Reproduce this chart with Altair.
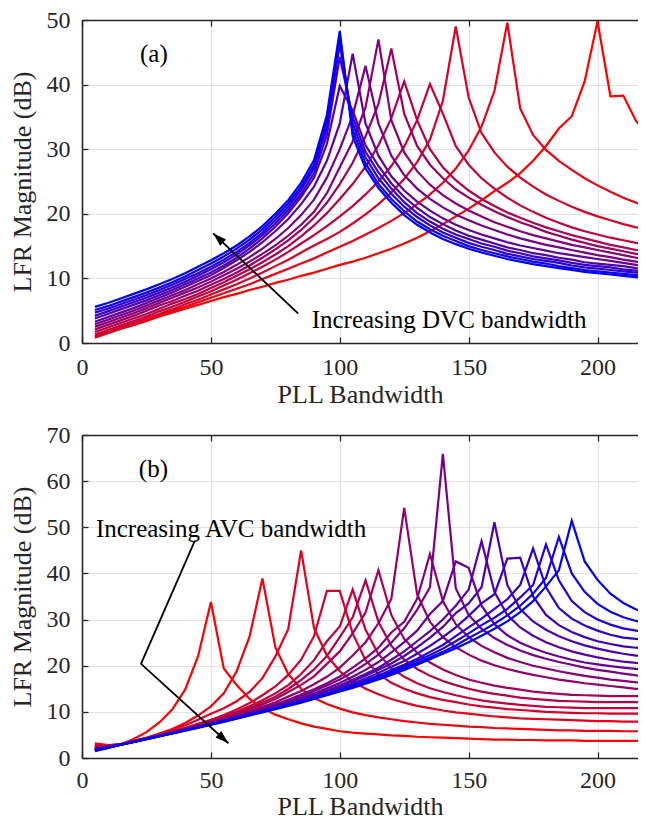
import altair as alt
import pandas as pd

FONT = "Liberation Serif"
W = 556
XMAX = 215.7
HA, HB = 323, 323

# PLL bandwidth sample points (shared by every curve)
pll_bw = list(range(5, 225, 5))

# ---------------- panel (a): increasing DVC bandwidth (red -> blue) ----------------
dvc_01 = [1.0,1.6,2.2,2.8,3.4,4.1,4.7,5.3,5.9,6.5,7.1,7.6,8.2,8.7,9.3,9.8,10.4,10.9,11.5,12.1,
          12.6,13.2,13.9,14.6,15.4,16.3,17.3,18.4,19.6,20.8,22.1,23.5,24.8,26.3,28.2,30.5,33.2,35.1,40.5,49.8,
          38.2,38.3,34.3,32.6]
dvc_02 = [0.8,1.5,2.2,2.8,3.5,4.2,4.9,5.6,6.3,7.0,7.7,8.4,9.1,9.9,10.7,11.5,12.3,13.1,14.0,14.9,
          15.8,16.8,17.8,18.9,20.1,21.5,23.0,24.8,27.0,29.8,33.5,39.0,49.6,
          36.3,32.2,29.9,28.2,26.8,25.5,24.4,23.4,22.5,21.7,21.0]
dvc_03 = [1.0,1.7,2.4,3.1,3.8,4.5,5.2,6.0,6.7,7.5,8.3,9.1,10.0,10.9,11.9,12.9,14.0,15.1,16.1,17.2,
          18.5,19.9,21.5,23.3,25.4,28.0,31.5,37.5,49.0,
          38.0,32.5,29.5,27.3,25.6,24.2,23.0,22.0,21.1,20.3,19.6,19.0,18.4,17.9,17.5]
dvc_04 = [1.3,2.0,2.7,3.4,4.1,4.9,5.6,6.4,7.2,8.0,8.9,9.8,10.8,11.8,12.9,14.1,15.4,16.7,18.1,19.6,
          21.2,23.0,25.0,27.4,30.4,34.5,40.1,
          35.5,30.5,27.6,25.5,23.9,22.5,21.3,20.3,19.4,18.6,17.9,17.3,16.8,16.3,15.9,15.5,15.2]
dvc_05 = [1.7,2.4,3.1,3.8,4.5,5.3,6.1,6.8,7.6,8.5,9.4,10.4,11.4,12.5,13.7,15.0,16.5,18.2,20.1,22.3,
          24.6,27.3,30.6,34.8,40.5,
          34.5,30.0,27.2,25.2,23.6,22.3,21.2,20.2,19.4,18.6,17.9,17.3,16.7,16.2,15.7,15.2,14.8,14.4,14.1]
dvc_06 = [2.1,2.8,3.5,4.2,5.0,5.8,6.5,7.3,8.1,9.0,9.9,10.9,12.0,13.2,14.5,15.9,17.5,19.4,21.7,24.6,
          27.9,32.0,37.0,45.6,
          35.5,30.5,27.6,25.5,23.8,22.5,21.4,20.4,19.5,18.7,18.0,17.2,16.6,16.0,15.5,15.0,14.6,14.2,13.8,13.4]
dvc_07 = [2.5,3.2,3.9,4.6,5.4,6.2,7.0,7.8,8.6,9.5,10.5,11.5,12.6,13.8,15.1,16.6,18.3,20.3,23.2,27.2,
          31.2,36.5,47.0,
          34.5,29.5,26.6,24.5,22.9,21.6,20.5,19.6,18.7,18.0,17.3,16.7,16.2,15.7,15.2,14.8,14.4,14.0,13.6,13.2,12.8]
dvc_08 = [2.9,3.6,4.3,5.0,5.8,6.6,7.4,8.2,9.1,10.0,11.0,12.1,13.3,14.6,16.1,17.8,19.8,22.2,25.6,30.0,
          35.2,42.9,
          34.0,29.0,26.0,23.9,22.3,21.0,19.9,19.0,18.2,17.5,16.8,16.2,15.7,15.2,14.8,14.4,14.0,13.6,13.3,12.9,12.6,12.2]
dvc_09 = [3.3,4.0,4.7,5.4,6.2,7.0,7.8,8.7,9.6,10.5,11.6,12.8,14.1,15.6,17.3,19.2,21.5,24.2,28.2,34.0,
          44.8,
          34.0,29.0,25.8,23.6,21.9,20.5,19.3,18.3,17.5,16.8,16.2,15.6,15.1,14.7,14.3,13.9,13.6,13.3,13.0,12.7,12.4,12.1,11.8]
dvc_10 = [3.8,4.5,5.2,5.9,6.6,7.4,8.2,9.1,10.0,10.9,12.0,13.2,14.6,16.2,18.0,20.1,22.6,25.6,30.8,
          39.8,
          36.0,30.6,27.4,24.7,22.6,20.9,19.5,18.4,17.4,16.6,16.0,15.4,14.8,14.4,13.9,13.6,13.2,12.9,12.5,12.3,12.1,11.9,11.6,11.4]
dvc_11 = [4.2,4.9,5.6,6.3,7.0,7.8,8.6,9.5,10.4,11.4,12.5,13.7,15.1,16.7,18.5,20.6,23.1,26.3,32.2,
          44.3,
          35.0,29.6,26.4,23.9,21.8,20.1,18.8,17.7,16.8,16.1,15.4,14.9,14.3,13.9,13.4,13.1,12.8,12.4,12.1,11.9,11.7,11.4,11.2,11.0]
dvc_12 = [4.7,5.3,6.0,6.7,7.4,8.2,9.0,9.9,10.8,11.8,12.9,14.1,15.5,17.1,19.0,21.1,23.7,27.0,33.3,
          46.3,
          34.0,28.7,25.5,23.1,21.1,19.5,18.2,17.1,16.3,15.5,14.9,14.4,13.8,13.4,13.0,12.7,12.4,12.0,11.7,11.5,11.3,11.1,10.9,10.7]
dvc_13 = [5.1,5.7,6.4,7.1,7.8,8.6,9.4,10.3,11.3,12.3,13.4,14.6,16.0,17.6,19.5,21.6,24.2,27.6,34.3,
          47.5,
          33.0,27.8,24.6,22.3,20.4,18.8,17.6,16.6,15.8,15.0,14.4,13.9,13.4,13.0,12.6,12.3,11.9,11.6,11.3,11.1,10.9,10.7,10.5,10.3]
dvc_14 = [5.6,6.2,6.9,7.6,8.3,9.1,9.9,10.8,11.8,12.8,13.9,15.1,16.5,18.1,20.0,22.1,24.8,28.3,35.3,
          48.3,
          32.0,27.0,24.0,21.7,19.8,18.3,17.1,16.1,15.3,14.6,14.0,13.5,13.0,12.6,12.2,11.9,11.6,11.3,11.0,10.8,10.6,10.4,10.2,10.0]

# ---------------- panel (b): increasing AVC bandwidth (red -> blue) ----------------
avc_01 = [3.2,2.8,2.9,4.1,5.6,7.7,10.5,14.8,22.0,33.8,
          19.4,15.8,12.8,10.8,9.4,8.4,7.5,6.8,6.3,5.8,5.5,5.3,5.1,4.9,4.8,4.6,4.5,4.4,4.3,4.2,4.1,4.0,4.0,3.9,
          3.9,3.8,3.8,3.8,3.7,3.7,3.7,3.7,3.7,3.7]
avc_02 = [3.0,2.75,3.0,3.7,4.4,5.3,6.3,7.6,9.2,11.2,14.0,18.8,26.3,38.9,
          24.0,18.2,15.0,13.0,11.7,10.7,9.9,9.3,8.8,8.4,8.0,7.7,7.4,7.2,7.0,6.8,6.7,6.5,6.4,6.3,6.2,6.1,6.0,6.0,
          5.9,5.9,5.9,5.8,5.8,5.8]
avc_03 = [2.8,2.7,3.0,3.7,4.4,5.2,6.1,7.1,8.3,9.6,10.8,12.3,14.3,17.3,22.0,27.9,45.0,
          28.2,22.2,18.8,16.6,15.0,13.8,12.8,12.0,11.3,10.8,10.3,9.9,9.6,9.3,9.0,8.8,8.6,8.5,8.4,8.3,8.2,8.1,
          8.0,8.0,7.9,7.9,7.9]
avc_04 = [2.6,2.65,2.95,3.6,4.3,5.0,5.75,6.55,7.4,8.3,9.3,10.5,11.9,13.6,15.5,18.0,21.3,26.4,36.2,36.2,
          27.0,21.2,18.2,16.3,15.0,14.0,13.2,12.6,12.1,11.6,11.2,10.9,10.6,10.4,10.2,10.0,9.9,9.8,9.7,9.7,
          9.6,9.6,9.6,9.6]
avc_05 = [2.5,2.6,2.95,3.6,4.25,4.95,5.7,6.45,7.3,8.1,8.95,10.0,11.2,12.5,14.0,15.8,18.2,21.2,25.3,28.5,
          36.5,
          27.8,22.5,19.5,17.6,16.2,15.1,14.3,13.6,13.0,12.5,12.1,11.8,11.5,11.3,11.1,11.0,10.9,10.8,10.8,
          10.8,10.8,10.8,10.8]
avc_06 = [2.4,2.55,2.95,3.6,4.25,4.9,5.65,6.4,7.2,8.0,8.8,9.75,10.8,12.0,13.3,14.95,16.9,19.2,22.1,26.2,
          30.5,38.5,
          29.5,24.3,21.3,19.3,17.8,16.7,15.8,15.0,14.4,13.9,13.5,13.1,12.8,12.6,12.4,12.3,12.2,12.1,12.1,
          12.1,12.1,12.1]
avc_07 = [2.3,2.5,2.95,3.6,4.25,4.9,5.6,6.35,7.05,7.85,8.7,9.55,10.55,11.6,12.8,14.3,15.85,17.7,20.4,23.1,
          27.0,31.5,40.7,
          31.0,25.8,22.8,20.7,19.2,18.0,17.0,16.3,15.7,15.2,14.8,14.4,14.1,13.9,13.7,13.6,13.5,13.4,13.4,
          13.4,13.4]
avc_08 = [2.2,2.45,2.9,3.6,4.2,4.9,5.6,6.3,7.0,7.7,8.5,9.3,10.2,11.1,12.1,13.3,14.5,16.0,17.6,19.6,
          22.2,25.1,29.2,34.5,54.2,
          35.5,29.5,26.2,24.0,22.4,21.1,20.1,19.3,18.6,18.0,17.5,17.0,16.6,16.2,15.9,15.6,15.3,15.0,14.8]
avc_09 = [2.1,2.4,2.9,3.55,4.2,4.85,5.5,6.2,6.85,7.6,8.35,9.1,9.9,10.75,11.65,12.6,13.75,14.9,16.2,17.65,
          19.6,21.6,23.9,27.2,29.5,34.5,44.2,
          34.0,29.0,26.2,24.3,22.9,21.7,20.8,20.0,19.4,18.8,18.3,17.8,17.4,17.0,16.7,16.4,16.2]
avc_10 = [2.0,2.4,2.9,3.55,4.2,4.85,5.45,6.1,6.8,7.55,8.25,9.05,9.8,10.6,11.5,12.35,13.4,14.5,15.7,17.0,
          18.6,20.4,22.4,25.0,28.1,32.1,37.0,65.9,
          36.8,31.0,28.0,26.0,24.5,23.3,22.3,21.5,20.8,20.2,19.6,19.1,18.7,18.3,17.9,17.6]
avc_11 = [1.9,2.35,2.9,3.55,4.15,4.8,5.45,6.1,6.75,7.5,8.2,8.95,9.7,10.5,11.3,12.1,13.05,14.0,15.1,16.25,
          17.6,19.1,20.8,22.9,25.1,27.6,31.2,34.0,42.6,41.2,
          33.0,29.0,26.6,25.0,23.8,22.8,22.0,21.3,20.7,20.3,19.9,19.6,19.3,19.1]
avc_12 = [1.85,2.35,2.9,3.5,4.15,4.8,5.4,6.05,6.7,7.45,8.15,8.85,9.6,10.35,11.1,11.95,12.8,13.7,14.65,15.7,
          16.95,18.2,19.55,21.3,23.1,25.3,27.5,30.0,33.0,36.5,47.0,
          36.0,31.0,28.3,26.5,25.1,24.0,23.1,22.4,21.8,21.3,20.9,20.6,20.5]
avc_13 = [1.8,2.3,2.9,3.5,4.15,4.8,5.4,6.05,6.7,7.4,8.1,8.8,9.5,10.25,11.05,11.8,12.65,13.5,14.45,15.45,
          16.65,17.8,19.1,20.5,22.1,24.0,26.1,28.4,31.4,33.5,37.0,51.1,
          37.5,32.3,29.6,27.8,26.4,25.3,24.4,23.7,23.1,22.6,22.2,22.0]
avc_14 = [1.75,2.3,2.9,3.5,4.15,4.8,5.4,6.05,6.7,7.35,8.05,8.75,9.45,10.15,10.9,11.65,12.45,13.25,14.1,15.05,
          16.15,17.25,18.4,19.8,21.0,22.6,24.3,26.2,28.3,30.8,33.5,35.5,43.2,43.4,
          35.0,31.0,28.8,27.3,26.2,25.3,24.7,24.2,23.9,23.8]
avc_15 = [1.7,2.25,2.9,3.5,4.15,4.8,5.4,6.05,6.7,7.3,8.0,8.7,9.4,10.1,10.8,11.55,12.3,13.1,13.95,14.8,
          15.8,16.8,17.85,19.1,20.2,21.5,23.0,24.5,26.4,28.3,30.2,32.3,34.4,37.5,45.4,
          37.0,32.5,30.2,28.7,27.6,26.7,26.1,25.8,25.6]
avc_16 = [1.65,2.25,2.9,3.5,4.15,4.8,5.4,6.05,6.7,7.3,8.0,8.65,9.35,10.05,10.75,11.5,12.25,13.0,13.85,14.65,
          15.65,16.6,17.6,18.7,19.8,21.1,22.3,23.7,25.3,27.0,28.8,30.4,32.3,34.8,37.5,46.3,
          38.5,34.0,31.6,30.0,28.9,28.1,27.6,27.4]
avc_17 = [1.6,2.2,2.9,3.5,4.1,4.75,5.35,6.0,6.6,7.25,7.95,8.6,9.3,10.0,10.7,11.4,12.15,12.9,13.7,14.5,
          15.45,16.35,17.3,18.4,19.45,20.6,21.8,23.0,24.4,26.0,27.5,29.1,30.9,33.0,35.6,39.0,47.9,
          40.0,36.0,33.4,31.7,30.5,29.7,29.2]
avc_18 = [1.5,2.2,2.9,3.5,4.1,4.7,5.3,5.9,6.5,7.2,7.8,8.5,9.2,9.9,10.6,11.3,12.0,12.8,13.6,14.4,
          15.2,16.1,17.0,18.0,19.1,20.2,21.4,22.6,23.8,25.1,26.5,28.0,29.6,31.6,34.0,37.2,40.7,51.4,
          42.6,38.6,35.6,33.6,32.2,31.2]

dvc_curves = [dvc_01, dvc_02, dvc_03, dvc_04, dvc_05, dvc_06, dvc_07,
              dvc_08, dvc_09, dvc_10, dvc_11, dvc_12, dvc_13, dvc_14]
avc_curves = [avc_01, avc_02, avc_03, avc_04, avc_05, avc_06, avc_07, avc_08, avc_09,
              avc_10, avc_11, avc_12, avc_13, avc_14, avc_15, avc_16, avc_17, avc_18]

# annotations (data coordinates)
a_tag = {"x": [27.9], "y": [44.7], "t": ["(a)"]}
a_note = {"x": [89.1], "y": [3.5], "t": ["Increasing DVC bandwidth"]}
a_arrow_x = [83.9, 50.9]
a_arrow_y = [4.55, 16.97]

b_tag = {"x": [27.7], "y": [62.6], "t": ["(b)"]}
b_note = {"x": [5.4], "y": [49.7], "t": ["Increasing AVC bandwidth"]}
b_arrow_x = [43.8, 22.9, 56.8]
b_arrow_y = [47.1, 20.4, 3.2]

x_ticks = [0, 50, 100, 150, 200]
ya_ticks = [0, 10, 20, 30, 40, 50]
yb_ticks = [0, 10, 20, 30, 40, 50, 60, 70]

HEAD = "M0,0L-0.32,1L0.32,1Z"
DARK = "#262626"
GRID = "#e0e0e0"


def ramp(n):
    out = []
    for i in range(n):
        t = i / (n - 1)
        out.append("#%02x00%02x" % (round(255 * (1 - t)), round(255 * t)))
    return out


def long_df(prefix, curves):
    rows = []
    names = []
    for k, vals in enumerate(curves):
        name = "%s%02d" % (prefix, k)
        names.append(name)
        for xv, yv in zip(pll_bw, vals):
            rows.append({"x": xv, "y": yv, "curve": name})
    return pd.DataFrame(rows), names


def panel(prefix, curves, ymax, yticks, tag, note, ax, ay, head_angle, H,
          title_y, label_pad):
    df, names = long_df(prefix, curves)
    colors = ramp(len(names))
    xs = alt.Scale(domain=[0, XMAX], nice=False, zero=False)
    ys = alt.Scale(domain=[0, ymax], nice=False, zero=False)

    x_edge = "datum.value == 0"
    y_edge = "datum.value == 0 || datum.value == %d" % ymax

    lines = alt.Chart(df).mark_line(strokeWidth=2.2, clip=True).encode(
        x=alt.X("x:Q", scale=xs, axis=alt.Axis(
            values=x_ticks, title="PLL Bandwidth", grid=True, domain=False,
            offset=-6, tickSize=6, labelPadding=label_pad, labelFlush=False,
            labelOverlap=False, titleY=title_y, titleBaseline="middle",
            gridColor={"condition": {"test": x_edge, "value": DARK}, "value": GRID},
            gridWidth={"condition": {"test": x_edge, "value": 1.6}, "value": 1})),
        y=alt.Y("y:Q", scale=ys, axis=alt.Axis(
            values=yticks, title="LFR Magnitude (dB)", grid=True, domain=False,
            offset=-6, tickSize=6, labelPadding=12, labelFlush=False,
            labelOverlap=False, titleX=-66, titleY=H / 2, titleAngle=270,
            titleBaseline="middle",
            gridColor={"condition": {"test": y_edge, "value": DARK}, "value": GRID},
            gridWidth={"condition": {"test": y_edge, "value": 1.6}, "value": 1})),
        color=alt.Color("curve:N", scale=alt.Scale(domain=names, range=colors),
                        legend=None),
    )

    arrow_df = pd.DataFrame({"x": ax, "y": ay, "o": list(range(len(ax)))})
    arrow = alt.Chart(arrow_df).mark_line(color="black", strokeWidth=1.8).encode(
        x=alt.X("x:Q", scale=xs, axis=None),
        y=alt.Y("y:Q", scale=ys, axis=None),
        order="o:Q",
    )
    head_df = pd.DataFrame({"x": [ax[-1]], "y": [ay[-1]]})
    head = alt.Chart(head_df).mark_point(
        shape=HEAD, filled=True, color="black", size=729, angle=head_angle,
        opacity=1, strokeWidth=0).encode(
        x=alt.X("x:Q", scale=xs, axis=None),
        y=alt.Y("y:Q", scale=ys, axis=None),
    )

    tag_layer = alt.Chart(pd.DataFrame(tag)).mark_text(
        font=FONT, fontSize=25, color="black", align="center",
        baseline="middle").encode(
        x=alt.X("x:Q", scale=xs, axis=alt.Axis(
            orient="top", values=x_ticks, labels=False, title=None, grid=False,
            domain=False, offset=-6, tickSize=6)),
        y=alt.Y("y:Q", scale=ys, axis=None),
        text="t:N",
    )
    note_layer = alt.Chart(pd.DataFrame(note)).mark_text(
        font=FONT, fontSize=25, color="black", align="left",
        baseline="middle").encode(
        x=alt.X("x:Q", scale=xs, axis=None),
        y=alt.Y("y:Q", scale=ys, axis=None),
        text="t:N",
    )
    return alt.layer(lines, arrow, head, tag_layer, note_layer).resolve_axis(
        x="independent", y="independent").properties(width=W, height=H)


chart_a = panel("a", dvc_curves, 50, ya_ticks, a_tag, a_note, a_arrow_x,
                a_arrow_y, 313, HA, 57, 12)
chart_b = panel("b", avc_curves, 70, yb_ticks, b_tag, b_note, b_arrow_x,
                b_arrow_y, 132, HB, 54, 10)

chart = alt.vconcat(chart_a, chart_b, spacing=92, bounds="flush").resolve_scale(
    color="independent"
).properties(
    padding={"left": 74, "top": 12, "right": 0, "bottom": 799},
    autosize=alt.AutoSizeParams(type="none"),
).configure(font=FONT).configure_view(
    strokeWidth=0
).configure_axis(
    labelFont=FONT, titleFont=FONT, labelFontSize=24, titleFontSize=26,
    titleFontWeight="normal", labelColor=DARK, titleColor=DARK,
    tickColor=DARK, tickWidth=1.3, gridOpacity=1,
)

chart.save("out.html", embed_options={"renderer": "svg", "actions": False})
